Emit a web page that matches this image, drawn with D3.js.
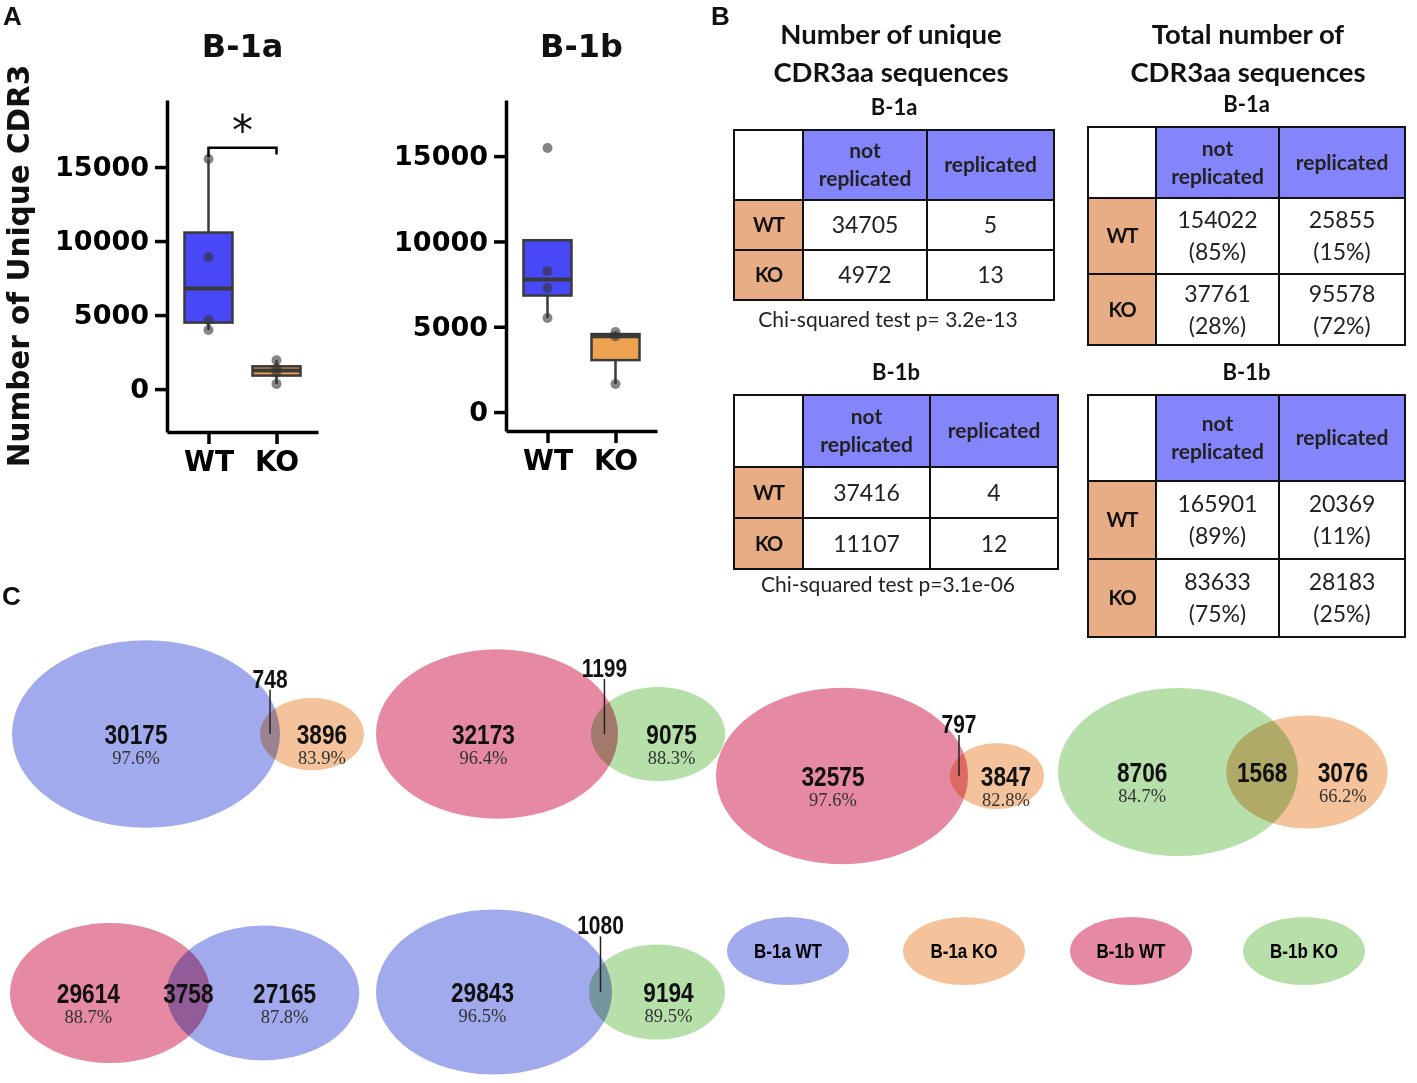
<!DOCTYPE html>
<html>
<head>
<meta charset="utf-8">
<script src="https://cdn.jsdelivr.net/npm/d3@7"></script>
<style>
  body { margin: 0; background: #fff; }
  svg text { fill: #111; }
  .axis-a text { font-family: "DejaVu Sans", sans-serif; font-weight: bold; font-size: 27px; fill: #000; }
  .axis-a path, .axis-a line { stroke: #000; stroke-width: 3.5px; }
  .tbl text { font-family: Lato, "Open Sans", sans-serif; }
  .venn ellipse { mix-blend-mode: multiply; }
  .vnum { font-family: "Liberation Sans Narrow", "Arial Narrow", "Liberation Sans", sans-serif; font-weight: bold; font-size: 27px; }
  .vpct { font-family: "Liberation Serif", serif; font-size: 19.5px; }
</style>
</head>
<body>
<svg id="fig" width="1417" height="1083"></svg>
<script>
// ---- panel A data ----
const groups = ["WT", "KO"];
const b1aWT = [3990, 4660, 8920, 15540];
const b1aKO = [350, 1100, 1400, 1950];
const b1bWT = [5510, 7270, 8270, 15480];
const b1bKO = [1640, 4450, 4690];
const yTicks = [0, 5000, 10000, 15000];
const boxColors = ["#4848f6", "#eda24f"];

// ---- panel B data ----
const colHeads = [["not", "replicated"], ["replicated"]];
const rowHeads = ["WT", "KO"];
const uniqueB1a = [[34705, 5], [4972, 13]];
const uniqueB1b = [[37416, 4], [11107, 12]];
const totalB1a = [[154022, 25855], [37761, 95578]];
const totalB1aPct = [["85%", "15%"], ["28%", "72%"]];
const totalB1b = [[165901, 20369], [83633, 28183]];
const totalB1bPct = [["89%", "11%"], ["75%", "25%"]];
const chiText = ["Chi-squared test p= 3.2e-13", "Chi-squared test p=3.1e-06"];

// ---- panel C data ----
const sampleNames = ["B-1a WT", "B-1a KO", "B-1b WT", "B-1b KO"];
const sampleColors = ["#a2aaee", "#f5c39b", "#e58aa2", "#b6dfa9"];
const vennSetA = [0, 2, 2, 3, 2, 0];
const vennSetB = [1, 3, 1, 1, 0, 3];
const vennOnlyA = [30175, 32173, 32575, 8706, 29614, 29843];
const vennShared = [748, 1199, 797, 1568, 3758, 1080];
const vennOnlyB = [3896, 9075, 3847, 3076, 27165, 9194];
const vennPctA = ["97.6%", "96.4%", "97.6%", "84.7%", "88.7%", "96.5%"];
const vennPctB = ["83.9%", "88.3%", "82.8%", "66.2%", "87.8%", "89.5%"];

const svg = d3.select("#fig");

// panel letters
svg.selectAll("text.panel").data([["A", 3, 25], ["B", 711, 25], ["C", 2, 605]]).enter()
  .append("text").attr("class", "panel")
  .attr("x", d => d[1]).attr("y", d => d[2]).text(d => d[0])
  .style("font-family", "Liberation Sans, Arial, sans-serif").style("font-weight", "bold").style("font-size", "26px");

// ================= Panel A =================
const boxPlots = [
  {title: "B-1a", x0: 167, x1: 318, yTop: 100, yBot: 432, domain: [-2900, 19530], sets: [b1aWT, b1aKO], sig: [15650, 16300, 15850]},
  {title: "B-1b", x0: 506, x1: 657, yTop: 100, yBot: 431, domain: [-1110, 18290], sets: [b1bWT, b1bKO]}
];

boxPlots.forEach(p => {
  const g = svg.append("g");
  const y = d3.scaleLinear().domain(p.domain).range([p.yBot, p.yTop]);
  const x = d3.scalePoint().domain(groups).range([p.x0, p.x1]).padding(0.61);

  g.append("g").attr("class", "axis-a")
    .attr("transform", `translate(${p.x0},0)`)
    .call(d3.axisLeft(y).tickValues(yTicks).tickFormat(d3.format("d")).tickSize(12).tickSizeOuter(0).tickPadding(6));
  g.append("g").attr("class", "axis-a")
    .attr("transform", `translate(0,${p.yBot})`)
    .call(d3.axisBottom(x).tickSize(12).tickSizeOuter(0).tickPadding(7))
    .call(a => a.selectAll("text").style("font-size", "28px"));

  g.append("text").attr("x", (p.x0 + p.x1) / 2).attr("y", 57)
    .attr("text-anchor", "middle")
    .style("font-family", "DejaVu Sans, sans-serif").style("font-weight", "bold").style("font-size", "32px")
    .text(p.title);

  const bw = 48;
  p.sets.forEach((vals, i) => {
    const s = vals.slice().sort(d3.ascending);
    const q1 = d3.quantile(s, 0.25), med = d3.quantile(s, 0.5), q3 = d3.quantile(s, 0.75);
    const iqr = q3 - q1;
    const lo = d3.min(s.filter(v => v >= q1 - 1.5 * iqr));
    const hi = d3.max(s.filter(v => v <= q3 + 1.5 * iqr));
    const cx = x(groups[i]);
    g.append("line").attr("x1", cx).attr("x2", cx).attr("y1", y(q3)).attr("y2", y(hi))
      .attr("stroke", "#3a3a3a").attr("stroke-width", 2.5);
    g.append("line").attr("x1", cx).attr("x2", cx).attr("y1", y(q1)).attr("y2", y(lo))
      .attr("stroke", "#3a3a3a").attr("stroke-width", 2.5);
    g.append("rect").attr("x", cx - bw / 2).attr("width", bw)
      .attr("y", y(q3)).attr("height", y(q1) - y(q3))
      .attr("fill", boxColors[i]).attr("stroke", "#3a3a3a").attr("stroke-width", 2.5);
    g.append("line").attr("x1", cx - bw / 2).attr("x2", cx + bw / 2).attr("y1", y(med)).attr("y2", y(med))
      .attr("stroke", "#3a3a3a").attr("stroke-width", 4);
    g.selectAll(null).data(s).enter().append("circle")
      .attr("cx", cx).attr("cy", d => y(d)).attr("r", 5)
      .attr("fill", "#333").attr("fill-opacity", 0.6);
  });

  if (p.sig) {
    const xa = x(groups[0]), xb = x(groups[1]);
    g.append("path")
      .attr("d", `M${xa},${y(p.sig[0])}V${y(p.sig[1])}H${xb}V${y(p.sig[2])}`)
      .attr("fill", "none").attr("stroke", "#000").attr("stroke-width", 2.5);
    g.append("text").attr("x", (xa + xb) / 2).attr("y", y(p.sig[1]) - 3)
      .attr("text-anchor", "middle")
      .style("font-family", "DejaVu Sans, sans-serif").style("font-size", "42px")
      .text("*");
  }
});

svg.append("text").attr("transform", "translate(29,266) rotate(-90)")
  .attr("text-anchor", "middle")
  .style("font-family", "DejaVu Sans, sans-serif").style("font-weight", "bold").style("font-size", "29.5px")
  .text("Number of Unique CDR3");

// ================= Panel B =================
const tables = [
  {xs: [734, 803, 927, 1054], ys: [130, 200, 250, 300], title: "B-1a", vals: uniqueB1a, chi: chiText[0], chiY: 327},
  {xs: [734, 803, 930, 1058], ys: [395, 467, 518, 569], title: "B-1b", vals: uniqueB1b, chi: chiText[1], chiY: 592},
  {xs: [1088, 1156, 1279, 1405], ys: [127, 198, 274, 345], title: "B-1a", vals: totalB1a, pct: totalB1aPct},
  {xs: [1088, 1156, 1279, 1405], ys: [395, 481, 559, 637], title: "B-1b", vals: totalB1b, pct: totalB1bPct}
];

const tb = svg.append("g").attr("class", "tbl");
[["Number of unique", "CDR3aa sequences", 891], ["Total number of", "CDR3aa sequences", 1248]].forEach(t => {
  tb.append("text").attr("x", t[2]).attr("y", 44).attr("text-anchor", "middle")
    .style("font-size", "27.5px").style("font-weight", "bold").text(t[0]);
  tb.append("text").attr("x", t[2]).attr("y", 82).attr("text-anchor", "middle")
    .style("font-size", "27.5px").style("font-weight", "bold").text(t[1]);
});

tables.forEach(t => {
  const g = tb.append("g");
  const mid = (a, b) => (a + b) / 2;
  g.append("text").attr("x", mid(t.xs[0], t.xs[3])).attr("y", t.ys[0] - 15).attr("text-anchor", "middle")
    .style("font-size", "22px").style("font-weight", "bold").text(t.title);
  for (let r = 0; r < 3; r++) {
    for (let c = 0; c < 3; c++) {
      let fill = "#fff";
      if (r === 0 && c > 0) fill = "#8585fb";
      if (r > 0 && c === 0) fill = "#e8ad85";
      g.append("rect").attr("x", t.xs[c]).attr("y", t.ys[r])
        .attr("width", t.xs[c + 1] - t.xs[c]).attr("height", t.ys[r + 1] - t.ys[r])
        .attr("fill", fill).attr("stroke", "#111").attr("stroke-width", 2);
    }
  }
  colHeads.forEach((lines, c) => {
    const cx = mid(t.xs[c + 1], t.xs[c + 2]), cy = mid(t.ys[0], t.ys[1]);
    lines.forEach((ln, k) => {
      g.append("text").attr("x", cx).attr("y", cy + (k - (lines.length - 1) / 2) * 28)
        .attr("dy", "0.35em").attr("text-anchor", "middle")
        .style("font-size", "21px").style("font-weight", "bold").style("fill", "#222").text(ln);
    });
  });
  rowHeads.forEach((lab, r) => {
    g.append("text").attr("x", mid(t.xs[0], t.xs[1])).attr("y", mid(t.ys[r + 1], t.ys[r + 2]))
      .attr("dy", "0.35em").attr("text-anchor", "middle")
      .style("font-size", "20px").style("font-weight", "bold").style("letter-spacing", "-1px").text(lab);
    t.vals[r].forEach((v, c) => {
      const cx = mid(t.xs[c + 1], t.xs[c + 2]), cy = mid(t.ys[r + 1], t.ys[r + 2]);
      const lines = t.pct ? [String(v), `(${t.pct[r][c]})`] : [String(v)];
      lines.forEach((ln, k) => {
        g.append("text").attr("x", cx).attr("y", cy + (k - (lines.length - 1) / 2) * 32)
          .attr("dy", "0.35em").attr("text-anchor", "middle")
          .style("font-size", "23px").style("fill", "#222").text(ln);
      });
    });
  });
  if (t.chi) {
    g.append("text").attr("x", 888).attr("y", t.chiY).attr("text-anchor", "middle")
      .style("font-size", "21px").style("fill", "#222").text(t.chi);
  }
});

// ================= Panel C =================
const vennLayout = [
  {cx: 146, cy: 734, r: 134, d: 166},
  {cx: 497, cy: 734, r: 121, d: 161},
  {cx: 842, cy: 776, r: 126, d: 155},
  {cx: 1178, cy: 772, r: 120, d: 129},
  {cx: 110, cy: 993, r: 100, d: 153},
  {cx: 494, cy: 992, r: 118, d: 163}
];
const aspect = 0.7;
const vg = svg.append("g").attr("class", "venn");

// condensed bold number label
function vnum(g, x, y, txt, size) {
  return g.append("text").attr("class", "vnum")
    .attr("transform", `translate(${x},${y}) scale(0.84,1)`)
    .attr("text-anchor", "middle").style("font-size", size ? size + "px" : null).text(txt);
}

vennLayout.forEach((L, i) => {
  const totA = vennOnlyA[i] + vennShared[i];
  const totB = vennOnlyB[i] + vennShared[i];
  const rs = d3.scaleSqrt().domain([0, Math.max(totA, totB)]).range([0, L.r]);
  const rA = rs(totA), rB = rs(totB);
  const cxB = L.cx + L.d;
  const g = vg.append("g");
  g.append("ellipse").attr("cx", L.cx).attr("cy", L.cy).attr("rx", rA).attr("ry", rA * aspect)
    .attr("fill", sampleColors[vennSetA[i]]);
  g.append("ellipse").attr("cx", cxB).attr("cy", L.cy).attr("rx", rB).attr("ry", rB * aspect)
    .attr("fill", sampleColors[vennSetB[i]]);

  const lensL = cxB - rB, lensR = L.cx + rA;
  const xA = (L.cx - rA + lensL) / 2, xB = (lensR + cxB + rB) / 2;
  [[xA, vennOnlyA[i], vennPctA[i]], [xB, vennOnlyB[i], vennPctB[i]]].forEach(l => {
    vnum(g, l[0], L.cy + 10, l[1]);
    g.append("text").attr("class", "vpct")
      .attr("transform", `translate(${l[0]},${L.cy + 30}) scale(0.95,1)`)
      .attr("text-anchor", "middle").style("fill", "#333").text(l[2]);
  });
  const lx = (lensL + lensR) / 2;
  if (lensR - lensL > 40) {
    vnum(g, lx, L.cy + 10, vennShared[i]);
  } else {
    const top = L.cy - Math.min(rA, rB) * aspect - 19;
    vnum(g, lx, top + 9, vennShared[i], 25);
    g.append("line").attr("x1", lx).attr("x2", lx).attr("y1", top + 11).attr("y2", L.cy)
      .attr("stroke", "#222").attr("stroke-width", 1.5);
  }
});

// legend
const legX = [788, 964, 1131, 1304];
const lg = vg.selectAll("g.leg").data(sampleNames).enter().append("g").attr("class", "leg")
  .attr("transform", (d, i) => `translate(${legX[i]},951)`);
lg.append("ellipse").attr("rx", 61).attr("ry", 34).attr("fill", (d, i) => sampleColors[i]);
lg.append("text").attr("class", "vnum").attr("y", 7).attr("text-anchor", "middle")
  .attr("transform", "scale(0.85,1)")
  .style("font-size", "20px").style("fill", "#000").text(d => d);
</script>
</body>
</html>
